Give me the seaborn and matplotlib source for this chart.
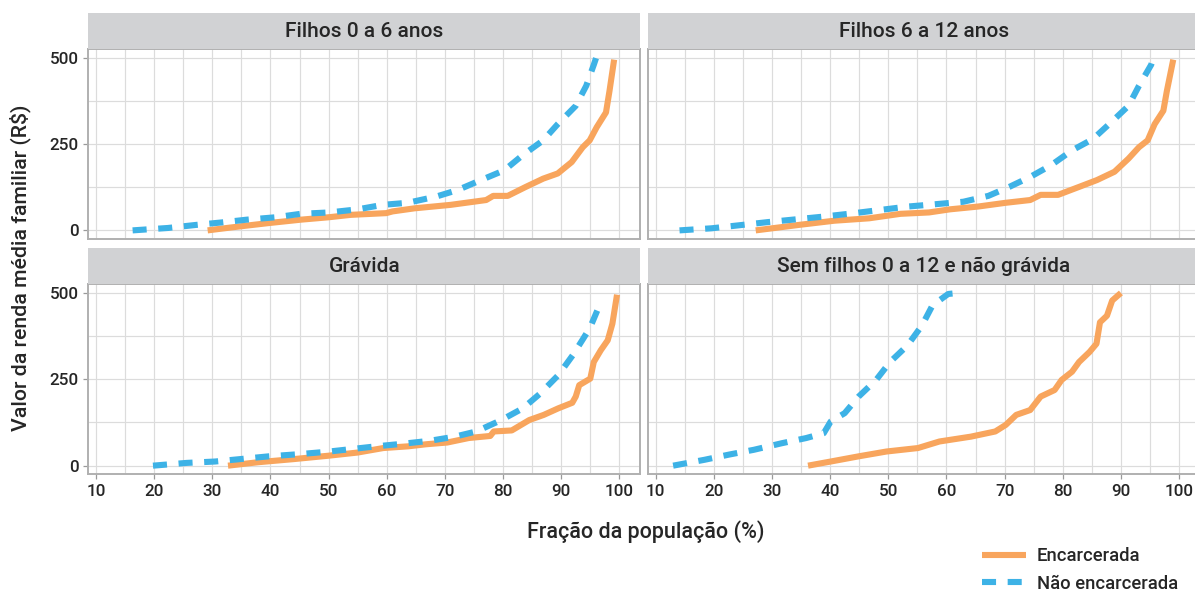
import numpy as np
import pandas as pd
import matplotlib
matplotlib.use("Agg")
import matplotlib.pyplot as plt
import seaborn as sns
from matplotlib.patches import Rectangle
from matplotlib.ticker import MultipleLocator, FixedLocator

# ---------------- data ----------------
panels = ["Filhos 0 a 6 anos", "Filhos 6 a 12 anos", "Grávida",
          "Sem filhos 0 a 12 e não grávida"]
groups = ["Encarcerada", "Não encarcerada"]

# Filhos 0 a 6 anos
f06_enc_x = [29.2, 33, 36, 39.6, 45.2, 50, 53.8, 59.9, 61, 64.8, 71, 77.1, 78.3,
             80.8, 83.9, 86.9, 89.4, 91.8, 93.7, 94.9, 96.1, 97.7, 98.3, 99.1]
f06_enc_y = [0, 8, 14, 21, 31, 38, 45, 50, 55, 64, 74, 88, 100,
             100, 126, 150, 165, 198, 241, 261, 299, 342, 404, 495]
f06_nao_x = [16.3, 22.4, 27.3, 31.6, 35.9, 40.9, 45.2, 50.1, 55, 59.3, 63.6,
             68.5, 72.2, 76.5, 80.2, 83.3, 86.9, 89.4, 92.5, 94.3, 95.6, 96]
f06_nao_y = [0, 7, 16, 23, 31, 38, 48, 52, 61, 74, 80,
             98, 117, 148, 174, 217, 261, 308, 361, 419, 480, 500]

# Filhos 6 a 12 anos
f612_enc_x = [27.2, 34.7, 40.7, 46.7, 52.1, 57, 60.6, 65.4, 70.2, 74.4, 76.2,
              79.2, 82.8, 85.9, 88.9, 91.3, 93.1, 94.6, 95.8, 97.3, 97.9, 99]
f612_enc_y = [0, 16, 28, 35, 48, 52, 61, 69, 80, 88, 103,
              103, 126, 146, 170, 208, 241, 261, 308, 347, 404, 495]
f612_nao_x = [14.1, 19.6, 25, 29.3, 34.1, 38.9, 43.7, 48.5, 53.3, 58.2, 62.9,
              67.2, 70.8, 74.4, 78, 81.6, 85.2, 88.3, 91.3, 93.1, 95.2, 95.6]
f612_nao_y = [0, 6, 16, 24, 32, 40, 49, 59, 69, 76, 83,
              100, 126, 155, 189, 232, 265, 313, 361, 419, 480, 500]

# Grávida
grav_enc_x = [32.7, 37.9, 44, 50.1, 55, 59.4, 63.7, 66.8, 70.4, 74.1, 77.8, 78.4,
              81.5, 84.5, 87, 89.5, 91.9, 92.5, 93.1, 95, 95.6, 96.8, 98, 98.8, 99.6]
grav_enc_y = [0, 10, 19, 29, 38, 51, 56, 62, 67, 80, 86, 99,
              102, 132, 147, 166, 182, 200, 233, 252, 300, 334, 363, 411, 495]
grav_nao_x = [19.8, 25.6, 30.5, 34.8, 39.7, 44.7, 49.6, 53.9, 58.2, 62.5, 67.4,
              71.7, 75.4, 79.7, 83.4, 86.4, 89.5, 92, 93.8, 95, 96.2, 96.6]
grav_nao_y = [0, 8, 12, 19, 27, 33, 40, 48, 56, 63, 72,
              84, 99, 132, 166, 209, 262, 320, 368, 401, 449, 475]

# Sem filhos 0 a 12 e não grávida
sem_enc_x = [36.2, 40.1, 44.9, 49.7, 55.1, 58.8, 64.2, 68.4, 70.2, 72, 74.4,
             76.2, 78.6, 79.8, 81.6, 82.8, 84.6, 85.8, 86.4, 87.6, 88.5, 90]
sem_enc_y = [0, 12, 27, 41, 51, 70, 84, 99, 118, 147, 161,
             200, 219, 248, 272, 300, 329, 353, 415, 434, 478, 500]
sem_nao_x = [13, 18.4, 22.6, 26.9, 31.7, 35.9, 38.9, 40.1, 42.5, 44.9, 47.9,
             50.3, 53.3, 55.8, 57.6, 60.3, 62.1]
sem_nao_y = [0, 17, 32, 46, 65, 80, 94, 128, 152, 200, 248,
             300, 348, 406, 464, 497, 500]

x_ticks = [10, 20, 30, 40, 50, 60, 70, 80, 90, 100]
y_ticks = [0, 250, 500]

series = {
    panels[0]: {groups[0]: (f06_enc_x, f06_enc_y), groups[1]: (f06_nao_x, f06_nao_y)},
    panels[1]: {groups[0]: (f612_enc_x, f612_enc_y), groups[1]: (f612_nao_x, f612_nao_y)},
    panels[2]: {groups[0]: (grav_enc_x, grav_enc_y), groups[1]: (grav_nao_x, grav_nao_y)},
    panels[3]: {groups[0]: (sem_enc_x, sem_enc_y), groups[1]: (sem_nao_x, sem_nao_y)},
}
rows = []
for p, d in series.items():
    for g, (xs, ys) in d.items():
        for i, (xv, yv) in enumerate(zip(xs, ys)):
            rows.append({"panel": p, "grupo": g, "x": xv, "y": yv, "order": i})
df = pd.DataFrame(rows)

# ---------------- style ----------------
sns.set_theme(style="white")
plt.rcParams["font.family"] = ["Roboto", "DejaVu Sans"]
plt.rcParams["font.weight"] = "medium"
TXT = "#262626"
ORANGE = "#F8A55D"
BLUE = "#3DB2E6"
palette = {groups[0]: ORANGE, groups[1]: BLUE}
dashes = {groups[0]: "", groups[1]: (2.3, 1.9)}

W, H = 1195, 594
fig = plt.figure(figsize=(W / 100, H / 100), dpi=100)

# pixel boxes: left, top, width, height
boxes = [(88.3, 49.3, 552.0, 189.7), (648, 49.3, 552.0, 189.7),
         (88.3, 284.3, 552.0, 190.0), (648, 284.3, 552.0, 190.0)]
strip_px = 36.0

handles = labels = None
for i, (p, (l, t, w, h)) in enumerate(zip(panels, boxes)):
    ax = fig.add_axes([l / W, (H - t - h) / H, w / W, h / H])
    sub = df[df["panel"] == p]
    sns.lineplot(data=sub, x="x", y="y", hue="grupo", style="grupo",
                 units="grupo", estimator=None, sort=False,
                 palette=palette, dashes=dashes, hue_order=groups,
                 style_order=groups, linewidth=4.4, ax=ax,
                 legend=(i == 0))
    for ln in ax.lines:
        ln.set_dash_capstyle("butt")
        ln.set_solid_capstyle("butt")
        ln.set_solid_joinstyle("round")
    if i == 0:
        handles, labels = ax.get_legend_handles_labels()
        ax.get_legend().remove()

    ax.set_xlim(8.68, 103.6)
    ax.set_ylim(-25, 525)
    ax.xaxis.set_major_locator(FixedLocator(x_ticks))
    ax.xaxis.set_minor_locator(MultipleLocator(5))
    ax.yaxis.set_major_locator(FixedLocator(y_ticks))
    ax.yaxis.set_minor_locator(MultipleLocator(125))
    ax.grid(which="both", color="#DCDCDC", linewidth=0.85)
    ax.set_axisbelow(True)
    ax.set_facecolor("white")
    for s in ax.spines.values():
        s.set_visible(True)
        s.set_color("#B0B0B0")
        s.set_linewidth(1.4)
    ax.set_xlabel("")
    ax.set_ylabel("")
    ax.tick_params(which="major", length=3.5, width=0.9, color="#9A9A9A",
                   labelsize=12.3, labelcolor=TXT, pad=3.5)
    ax.tick_params(which="minor", length=0)
    ax.tick_params(axis="x", bottom=(i >= 2), labelbottom=(i >= 2))
    ax.tick_params(axis="y", left=(i % 2 == 0), labelleft=(i % 2 == 0))
    if i % 2 == 0:
        ax.set_yticklabels([str(v) for v in y_ticks], fontweight="medium")
    if i >= 2:
        ax.set_xticklabels([str(v) for v in x_ticks], fontweight="medium")

    frac = strip_px / h
    ax.add_patch(Rectangle((0, 1), 1, frac, transform=ax.transAxes,
                           clip_on=False, facecolor="#D1D2D4",
                           edgecolor="none", zorder=5))
    ax.text(0.5, 1 + frac / 2, p, transform=ax.transAxes, ha="center",
            va="center", fontsize=15, fontweight="medium", color=TXT, zorder=6)

fig.text(646 / W, (H - 532) / H, "Fração da população (%)", ha="center",
         va="center", fontsize=15.5, fontweight="medium", color=TXT)
fig.text(20 / W, (H - 268) / H, "Valor da renda média familiar (R$)",
         ha="center", va="center", rotation=90, fontsize=15.3,
         fontweight="medium", color=TXT)

for hd in handles:
    hd.set_linewidth(4.4)
    hd.set_dash_capstyle("butt")
leg = fig.legend(handles, labels, loc="center left",
                 bbox_to_anchor=(982 / W, (H - 570) / H), frameon=False,
                 handlelength=2.4, handletextpad=0.6,
                 labelspacing=0.5, borderpad=0, borderaxespad=0,
                 prop={"weight": "medium", "size": 13.2})
for tx in leg.get_texts():
    tx.set_color(TXT)

fig.savefig("out.png", dpi=100)
